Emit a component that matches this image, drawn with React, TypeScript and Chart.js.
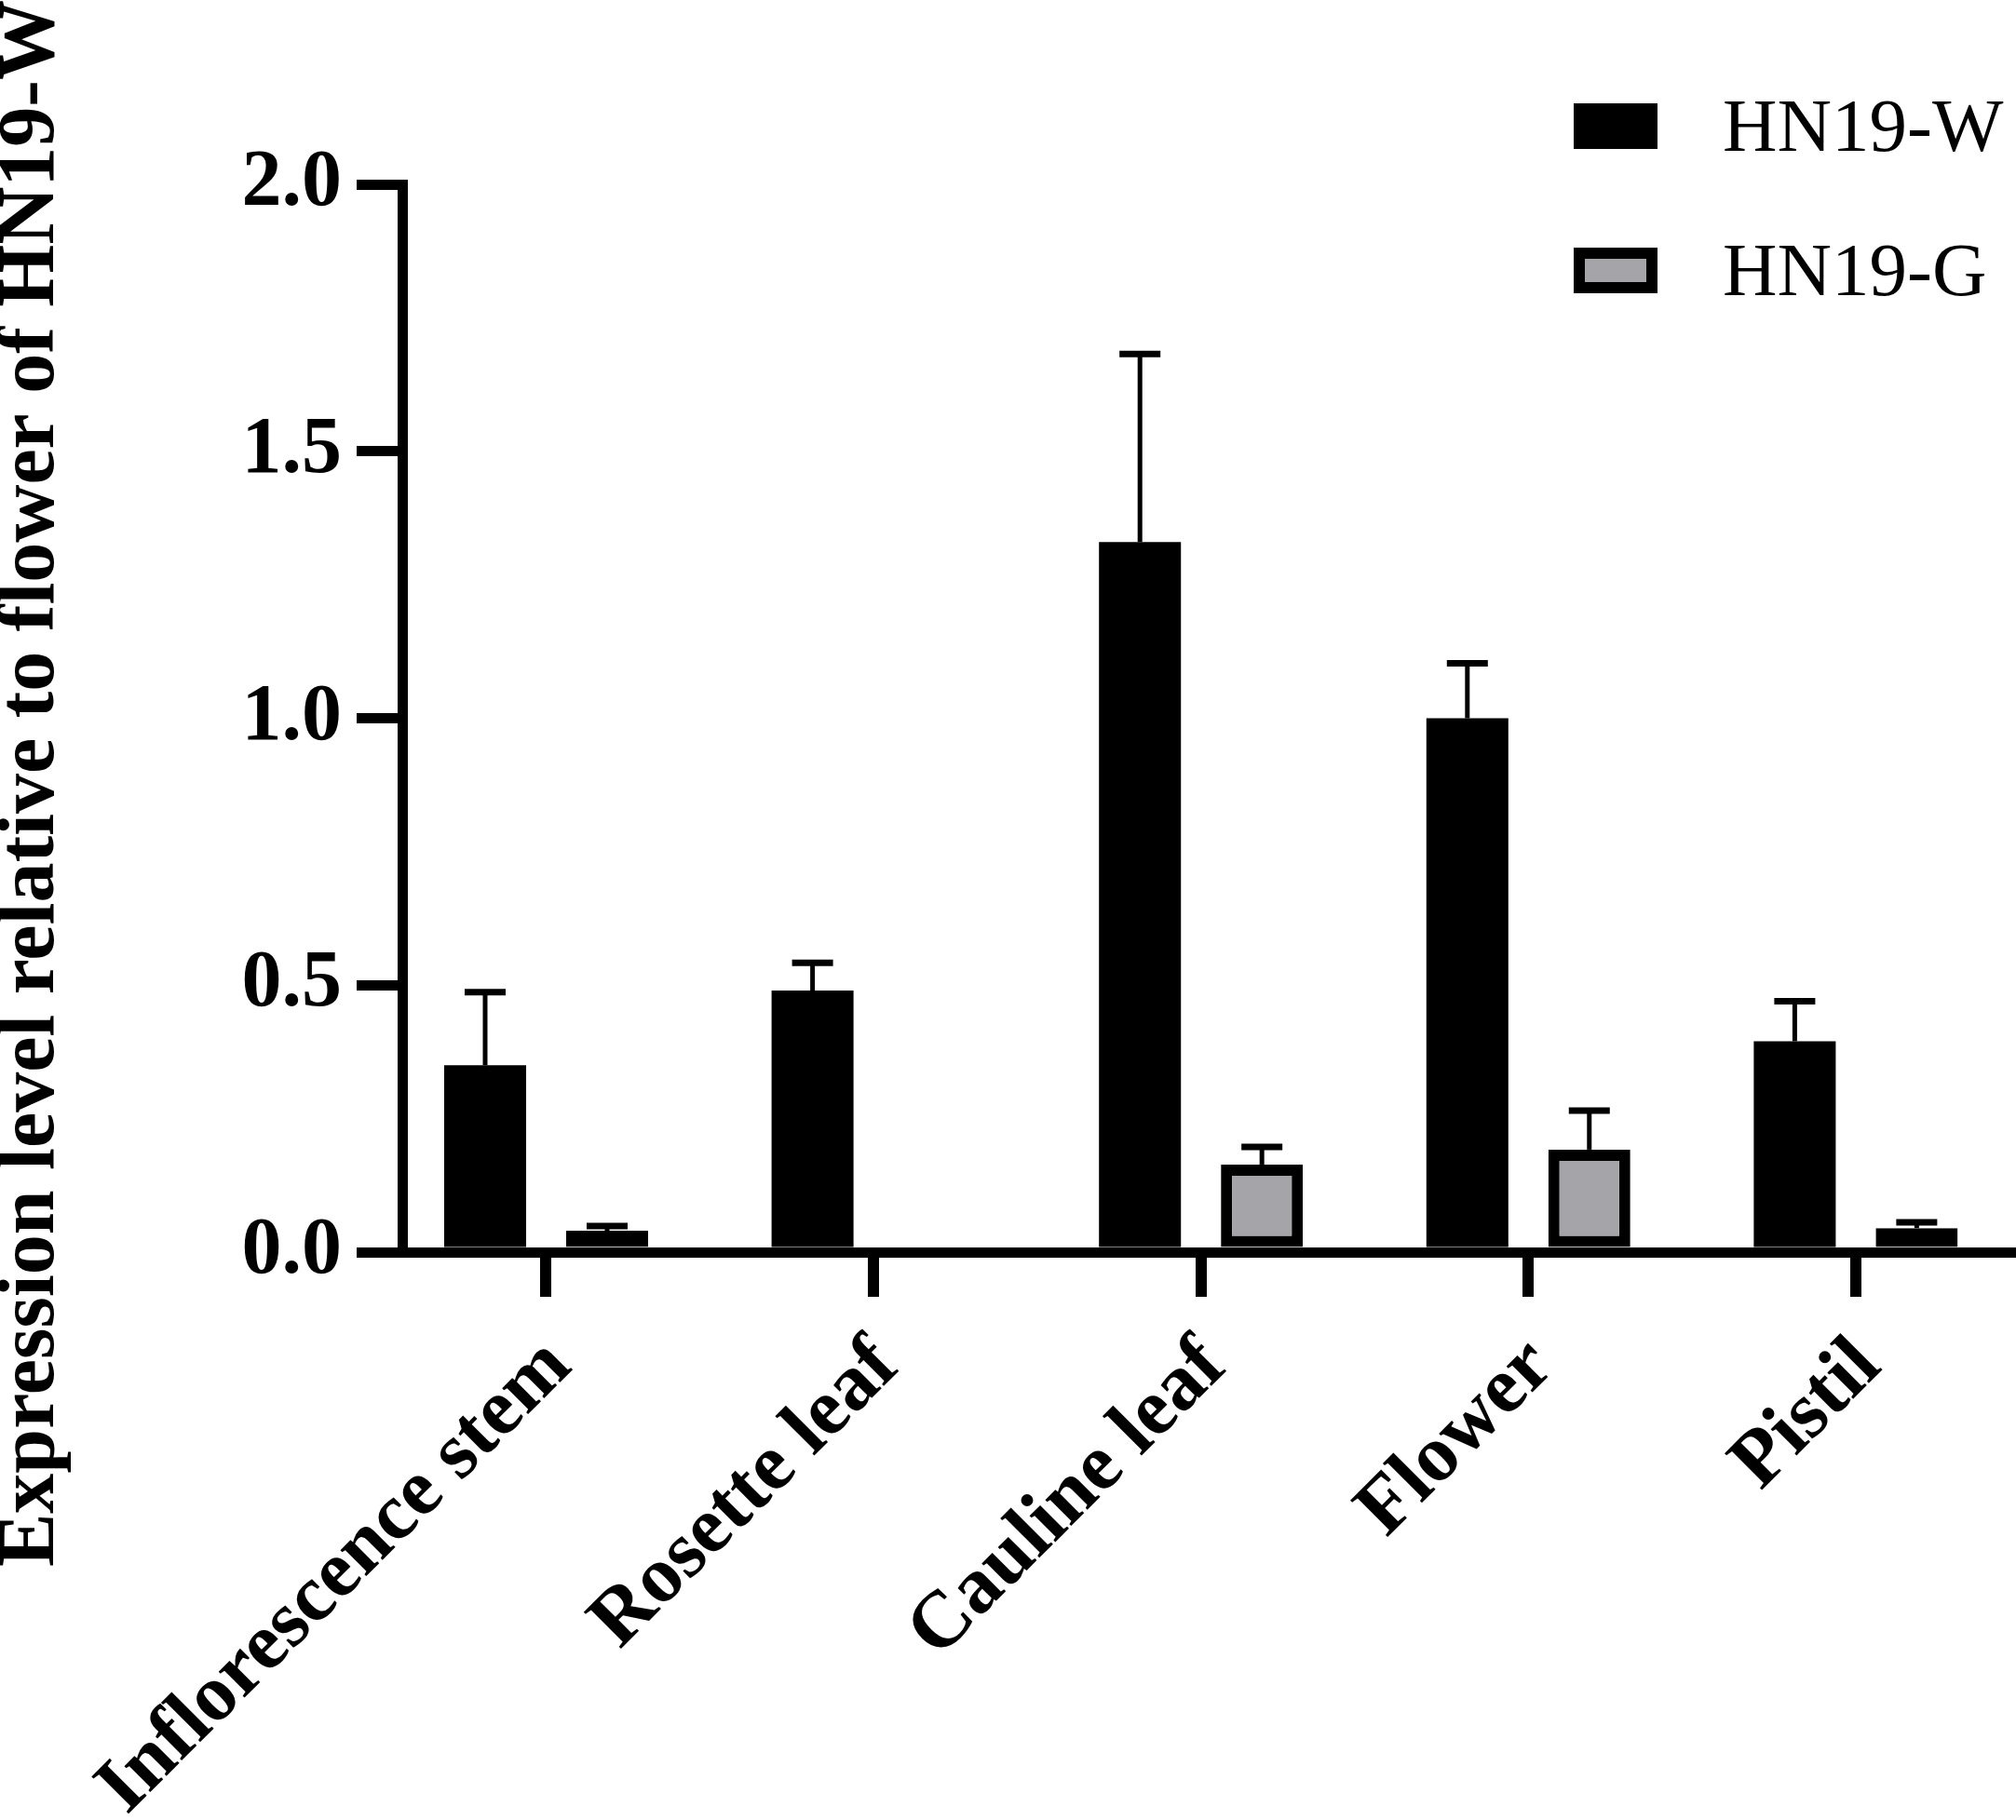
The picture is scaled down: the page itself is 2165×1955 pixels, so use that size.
import React, { useEffect, useRef } from "react";
import { Chart, registerables } from "chart.js";

Chart.register(...registerables);

const categories = ["Inflorescence stem", "Rosette leaf", "Cauline leaf", "Flower", "Pistil"];
const seriesNames = ["HN19-W", "HN19-G"];
const wMean = [0.35, 0.49, 1.33, 1.0, 0.395];
const wSd = [0.137, 0.052, 0.352, 0.103, 0.075];
const gMean = [0.04, 0, 0.164, 0.192, 0.045];
const gSd = [0.009, 0, 0.033, 0.073, 0.011];
const yTicks = [0, 0.5, 1.0, 1.5, 2.0];
const yTitle = "Expression level relative to flower of HN19-W";

const FONT = "'Liberation Serif', 'Times New Roman', Times, serif";
const TITLE_LINE = 0.8;
const TITLE_SIZE = 86;

const errorBarPlugin = {
  id: "errorBars",
  afterDatasetsDraw(chart: any, _args: any, opts: any) {
    const ctx = chart.ctx;
    const yScale = chart.scales.y;
    chart.data.datasets.forEach((ds: any, di: number) => {
      const meta = chart.getDatasetMeta(di);
      const sds: number[] = ds.errors || [];
      meta.data.forEach((el: any, i: number) => {
        const sd = sds[i];
        if (!sd) return;
        const v = ds.data[i].y;
        const yTop = yScale.getPixelForValue(v + sd);
        const yBar = yScale.getPixelForValue(v);
        ctx.save();
        ctx.strokeStyle = "#000";
        ctx.lineWidth = opts.stemWidth;
        ctx.beginPath();
        ctx.moveTo(el.x, yBar);
        ctx.lineTo(el.x, yTop);
        ctx.stroke();
        ctx.lineWidth = opts.capWidth;
        ctx.beginPath();
        ctx.moveTo(el.x - opts.capHalf, yTop);
        ctx.lineTo(el.x + opts.capHalf, yTop);
        ctx.stroke();
        ctx.restore();
      });
    });
  },
};

const boxLegendPlugin = {
  id: "boxLegend",
  afterDraw(chart: any, _args: any, opts: any) {
    const ctx = chart.ctx;
    chart.data.datasets.forEach((ds: any, i: number) => {
      const top = opts.top + i * opts.rowGap;
      ctx.save();
      ctx.fillStyle = ds.borderColor;
      ctx.fillRect(opts.x, top, opts.boxW, opts.boxH);
      if (ds.borderWidth > 0) {
        const b = opts.boxBorder;
        ctx.fillStyle = ds.backgroundColor;
        ctx.fillRect(opts.x + b, top + b, opts.boxW - 2 * b, opts.boxH - 2 * b);
      }
      ctx.fillStyle = "#000";
      ctx.font = `${opts.fontSize}px ${FONT}`;
      ctx.textAlign = "left";
      ctx.textBaseline = "alphabetic";
      ctx.fillText(ds.label, opts.textX, top + opts.baselineOffset);
      ctx.restore();
    });
  },
};

export default function App() {
  const ref = useRef<HTMLCanvasElement>(null);

  useEffect(() => {
    const canvas = ref.current;
    if (!canvas) return;
    const chart = new Chart(canvas, {
      type: "bar",
      data: {
        datasets: [
          {
            label: seriesNames[0],
            data: wMean.map((v, i) => ({ x: i, y: v })),
            errors: wSd,
            backgroundColor: "#000000",
            borderColor: "#000000",
            borderWidth: 0,
            barPercentage: 0.672,
            categoryPercentage: 0.745,
          } as any,
          {
            label: seriesNames[1],
            data: gMean.map((v, i) => ({ x: i, y: v })),
            errors: gSd,
            backgroundColor: "#a4a4a9",
            borderColor: "#000000",
            borderWidth: 12,
            borderSkipped: false,
            barPercentage: 0.672,
            categoryPercentage: 0.745,
          } as any,
        ],
      },
      options: {
        animation: false,
        responsive: false,
        devicePixelRatio: 1,
        layout: { padding: { left: 0, top: 0, right: 5, bottom: 0 } },
        plugins: {
          legend: { display: false },
          tooltip: { enabled: false },
          title: {
            display: true,
            text: yTitle,
            position: "left",
            align: "end",
            color: "#000",
            padding: 0,
            font: { family: FONT, size: TITLE_SIZE, weight: "bold", lineHeight: TITLE_LINE },
          },
          errorBars: { stemWidth: 5, capWidth: 7, capHalf: 22 },
          boxLegend: {
            x: 1690,
            top: 111,
            rowGap: 155,
            boxW: 90,
            boxH: 49,
            boxBorder: 12,
            textX: 1850,
            baselineOffset: 51,
            fontSize: 81,
          },
        } as any,
        scales: {
          x: {
            type: "linear",
            position: "bottom",
            min: -0.4394,
            max: 4.4753,
            offset: false,
            z: 1,
            grid: {
              display: true,
              offset: false,
              drawOnChartArea: false,
              drawTicks: true,
              tickLength: 48,
              tickWidth: 12,
              lineWidth: 12,
              tickColor: "#000",
              color: "#000",
            },
            border: { display: true, color: "#000", width: 11 },
            afterBuildTicks: (scale: any) => {
              scale.ticks = categories.map((_, i) => ({ value: i }));
            },
            afterFit: (scale: any) => {
              scale.height = 610;
            },
            ticks: {
              autoSkip: false,
              minRotation: 45,
              maxRotation: 45,
              padding: 25,
              labelOffset: 14,
              color: "#000",
              font: { family: FONT, size: 86, weight: "bold" },
              callback: (v: any) => categories[v as number] ?? "",
            },
          },
          xTop: {
            type: "linear",
            position: "top",
            display: true,
            grid: { display: false, drawTicks: false },
            border: { display: false },
            ticks: { display: false },
            afterFit: (scale: any) => {
              scale.height = 198;
            },
          },
          y: {
            type: "linear",
            position: "left",
            min: 0,
            max: 2,
            grid: {
              display: true,
              drawOnChartArea: false,
              drawTicks: true,
              tickLength: 49,
              tickWidth: 11,
              lineWidth: 11,
              tickColor: "#000",
              color: "#000",
            },
            border: { display: true, color: "#000", width: 11 },
            afterBuildTicks: (scale: any) => {
              scale.ticks = yTicks.map((v) => ({ value: v }));
            },
            afterFit: (scale: any) => {
              scale.width = 432 - TITLE_SIZE * TITLE_LINE;
            },
            ticks: {
              padding: 16,
              color: "#000",
              font: { family: FONT, size: 86, weight: "bold" },
              callback: (v: any) => Number(v).toFixed(1),
            },
          },
        },
      },
      plugins: [errorBarPlugin, boxLegendPlugin],
    } as any);
    return () => chart.destroy();
  }, []);

  return (
    <div style={{ position: "absolute", left: 0, top: 0, width: 2165, height: 1955, background: "#fff" }}>
      <canvas ref={ref} width={2165} height={1955} style={{ width: 2165, height: 1955, display: "block" }} />
    </div>
  );
}
